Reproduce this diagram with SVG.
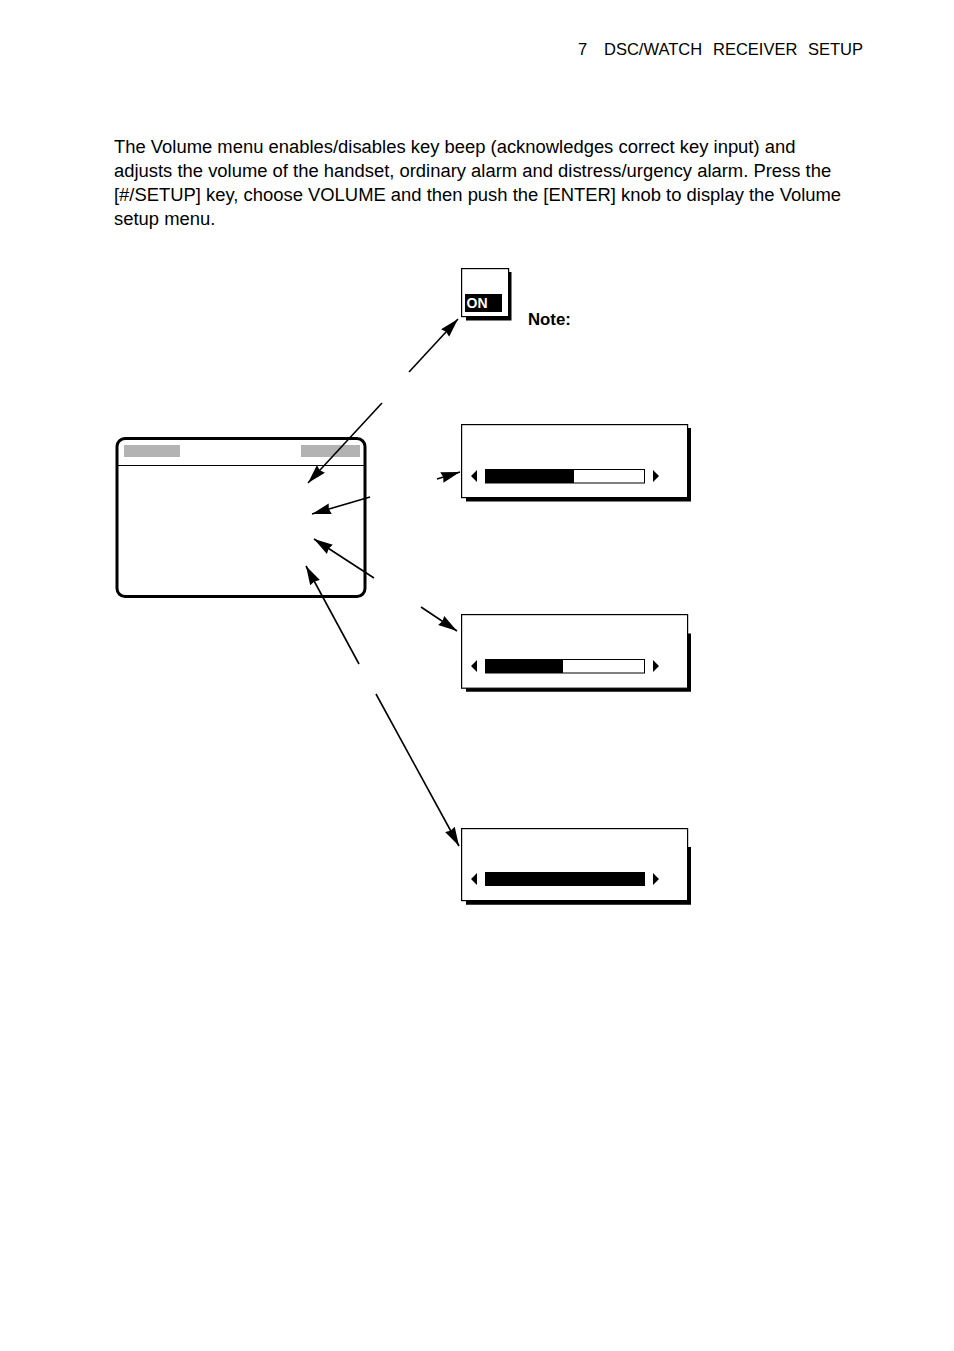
<svg xmlns="http://www.w3.org/2000/svg" width="954" height="1351" viewBox="0 0 954 1351">
<style>
text{font-family:"Liberation Sans",Arial,sans-serif;fill:#000}
.p{font-size:18.42px}
.h{font-size:16.5px}
.box{fill:#fff;stroke:#000;stroke-width:1.2}
.bar{fill:#fff;stroke:#000;stroke-width:1}
.grey{fill:#b3b3b3}
#connectors line{stroke:#000;stroke-width:1.6;marker-end:url(#head)}
</style>
<defs>
<marker id="head" markerUnits="userSpaceOnUse" markerWidth="20" markerHeight="14" refX="19" refY="7" orient="auto">
<path d="M0,1.5 L19,7 L0,12.5 L1.5,7 Z" fill="#000"/>
</marker>
</defs>
<rect width="954" height="1351" fill="#fff"/>
<g id="header">
<text class="h" x="578" y="55">7</text>
<text class="h" x="604" y="55">DSC/WATCH</text>
<text class="h" x="713" y="55">RECEIVER</text>
<text class="h" x="808" y="55">SETUP</text>
</g>
<g id="paragraph">
<text class="p" x="114" y="153">The Volume menu enables/disables key beep (acknowledges correct key input) and</text>
<text class="p" x="114" y="177">adjusts the volume of the handset, ordinary alarm and distress/urgency alarm. Press the</text>
<text class="p" x="114" y="201">[#/SETUP] key, choose VOLUME and then push the [ENTER] knob to display the Volume</text>
<text class="p" x="114" y="225">setup menu.</text>
</g>
<g id="main-screen">
<rect x="117" y="438.5" width="248" height="158" rx="8" ry="8" fill="#fff" stroke="#000" stroke-width="3"/>
<rect class="grey" x="124" y="445" width="56" height="12"/>
<rect class="grey" x="301" y="445" width="59" height="12"/>
<line x1="117" y1="465.5" x2="365" y2="465.5" stroke="#000" stroke-width="1.2"/>
</g>
<g id="key-beep">
<path d="M466 272H511.5V320.5H466Z" fill="#000"/>
<rect class="box" x="461.6" y="268.6" width="47" height="48"/>
<rect x="465" y="294" width="37" height="18" fill="#000"/>
<text x="466.5" y="308" font-size="14" font-weight="bold" style="fill:#fff">ON</text>
</g>
<g id="note"><text x="528" y="325" font-size="16.8" font-weight="bold">Note:</text></g>
<g id="slider-1">
<path d="M466 428H691V501.5H466Z" fill="#000"/>
<rect class="box" x="461.6" y="424.6" width="226" height="73"/>
<path d="M477 470V482L471 476Z M653 470V482L659 476Z" fill="#000"/>
<rect class="bar" x="485.5" y="469.5" width="159" height="13.5"/>
<rect x="485" y="469" width="89" height="14" fill="#000"/>
</g>
<g id="slider-2">
<path d="M466 633.5H691V691.7H466Z" fill="#000"/>
<rect class="box" x="461.6" y="614.6" width="226" height="73.6"/>
<path d="M477 660V672L471 666Z M653 660V672L659 666Z" fill="#000"/>
<rect class="bar" x="485.5" y="659.5" width="159" height="13.5"/>
<rect x="485" y="659" width="78" height="14" fill="#000"/>
</g>
<g id="slider-3">
<path d="M466 847H691V904.7H466Z" fill="#000"/>
<rect class="box" x="461.6" y="828.6" width="226" height="72"/>
<path d="M477 873V885L471 879Z M653 873V885L659 879Z" fill="#000"/>
<rect x="485" y="872" width="160" height="14" fill="#000"/>
</g>
<g id="connectors">
<line x1="409" y1="372" x2="458" y2="319"/>
<line x1="382" y1="403" x2="308" y2="483"/>
<line x1="437" y1="479" x2="460" y2="472"/>
<line x1="370" y1="497" x2="312" y2="514"/>
<line x1="374" y1="578" x2="314" y2="539"/>
<line x1="359" y1="664" x2="306" y2="566"/>
<line x1="421" y1="607" x2="457" y2="631"/>
<line x1="376" y1="694" x2="459" y2="846"/>
</g>
</svg>
